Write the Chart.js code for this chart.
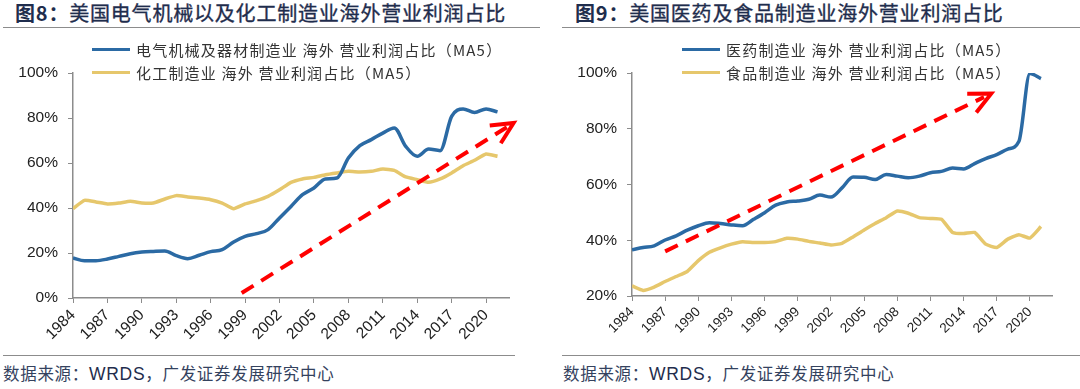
<!DOCTYPE html>
<html>
<head>
<meta charset="utf-8">
<script src="https://cdn.jsdelivr.net/npm/chart.js@4.4.1/dist/chart.umd.min.js"></script>
<style>
  body { margin: 0; background: #fff; }
  #page { position: relative; width: 1080px; height: 389px; overflow: hidden; font-family: "Liberation Sans", "Noto Sans CJK SC", sans-serif; }
  canvas { position: absolute; top: 0; }
  .title { position: absolute; top: -2px; font-family: "Noto Sans CJK SC", sans-serif; font-size: 20px; letter-spacing: 0.8px; color: #1f2d4d; white-space: nowrap; font-weight: 400; -webkit-text-stroke: 0.35px #1f2d4d; }
  .title b { font-weight: 700; -webkit-text-stroke: 0; }
  .rule { position: absolute; height: 0; border-top: 1.5px solid #8c8c8c; }
  .source { position: absolute; top: 361px; font-family: "Noto Sans CJK SC", sans-serif; font-size: 16.5px; letter-spacing: 0.7px; color: #34425e; white-space: nowrap; }
  .source span { font-family: "Liberation Sans", sans-serif; font-size: 17.5px; color: #1f2d4d; }
  .legend { position: absolute; font-family: "Noto Sans CJK SC", sans-serif; font-size: 15px; letter-spacing: 1.2px; color: #333; white-space: nowrap; }
  .legend div { height: 23px; line-height: 23px; display: flex; align-items: center; }
  .legend i { display: inline-block; width: 38px; height: 3.5px; margin-right: 6px; }
</style>
</head>
<body>
<div id="page">
  <div class="title" style="left:15px"><b>图8：</b>美国电气机械以及化工制造业海外营业利润占比</div>
  <div class="title" style="left:575px"><b>图9：</b>美国医药及食品制造业海外营业利润占比</div>
  <div class="rule" style="left:3px; width:537px; top:27px"></div>
  <div class="rule" style="left:562px; width:518px; top:27px"></div>

  <canvas id="left" width="540" height="355" style="left:0"></canvas>
  <canvas id="right" width="540" height="355" style="left:540px"></canvas>

  <div class="legend" id="legendLeft" style="left:92px; top:38px"></div>
  <div class="legend" id="legendRight" style="left:682px; top:38px"></div>

  <div class="rule" style="left:3px; width:512px; top:355px"></div>
  <div class="rule" style="left:562px; width:518px; top:355px"></div>
  <div class="source" style="left:3px">数据来源：<span>WRDS</span>，广发证券发展研究中心</div>
  <div class="source" style="left:563px">数据来源：<span>WRDS</span>，广发证券发展研究中心</div>
</div>

<script>
// years 1984 - 2021, MA5 share of overseas operating profit (%)
const years = [1984, 1985, 1986, 1987, 1988, 1989, 1990, 1991, 1992, 1993,
    1994, 1995, 1996, 1997, 1998, 1999, 2000, 2001, 2002, 2003,
    2004, 2005, 2006, 2007, 2008, 2009, 2010, 2011, 2012, 2013,
    2014, 2015, 2016, 2017, 2018, 2019, 2020, 2021];

// every third year gets a tick label
const tickYears = [1984, 1987, 1990, 1993, 1996, 1999, 2002, 2005, 2008, 2011, 2014, 2017, 2020];

const elecMach = [17.8, 16.6, 16.6, 17.3, 18.5, 19.7, 20.4, 20.7, 20.9, 18.8,
    17.5, 19.0, 20.6, 21.5, 24.9, 27.4, 28.6, 30.4, 35.6, 40.7,
    45.9, 48.9, 52.9, 53.3, 62.2, 67.7, 70.4, 73.3, 75.6, 67.4,
    63.0, 66.2, 65.5, 80.7, 84.0, 82.5, 84.0, 82.7];

const chemical = [39.7, 43.4, 42.7, 41.8, 42.2, 43.0, 42.2, 42.2, 44.0, 45.5,
    44.9, 44.4, 43.7, 42.2, 39.7, 41.8, 43.3, 45.2, 48.1, 51.4,
    52.9, 53.6, 54.8, 55.6, 56.3, 56.0, 56.3, 57.3, 56.7, 53.8,
    52.6, 51.4, 52.9, 55.6, 58.8, 61.2, 64.0, 63.0];

const pharma = [36.6, 37.4, 38.0, 40.1, 41.6, 43.6, 45.2, 46.3, 46.0, 45.5,
    45.2, 47.5, 49.9, 52.6, 53.7, 54.1, 54.7, 56.2, 55.5, 58.8,
    62.7, 62.6, 61.8, 63.6, 63.0, 62.4, 63.0, 64.2, 64.7, 65.9,
    65.6, 67.5, 69.3, 70.7, 72.7, 75.4, 99.8, 98.0];

const food = [23.6, 22.0, 23.2, 25.2, 27.0, 28.8, 32.7, 35.7, 37.3, 38.6,
    39.5, 39.2, 39.2, 39.5, 40.7, 40.4, 39.6, 39.0, 38.3, 38.9,
    41.2, 43.7, 46.0, 48.1, 50.5, 49.7, 48.1, 47.8, 47.5, 42.8,
    42.4, 42.8, 38.6, 37.4, 40.4, 42.0, 40.8, 44.9];

const leftLabels = ["电气机械及器材制造业 海外 营业利润占比（MA5）", "化工制造业 海外 营业利润占比（MA5）"];
const rightLabels = ["医药制造业 海外 营业利润占比（MA5）", "食品制造业 海外 营业利润占比（MA5）"];

const BLUE = "#2b6aa4";
const YELLOW = "#e6c76c";
const AXIS = "#8c8c8c";

// dashed red trend arrow, given in data coordinates
const trendArrow = {
    id: "trendArrow",
    afterDatasetsDraw(chart, args, opts) {
        const xs = chart.scales.x, ys = chart.scales.y;
        const x0 = xs.getPixelForValue(opts.from[0]);
        const y0 = ys.getPixelForValue(opts.from[1]);
        const x1 = xs.getPixelForValue(opts.to[0]);
        const y1 = ys.getPixelForValue(opts.to[1]);
        const ang = Math.atan2(y1 - y0, x1 - x0);
        const ctx = chart.ctx;
        ctx.save();
        ctx.strokeStyle = "#ff0000";
        ctx.lineWidth = 4;
        ctx.setLineDash([14, 9]);
        ctx.beginPath();
        ctx.moveTo(x0, y0);
        ctx.lineTo(x1 - 8 * Math.cos(ang), y1 - 8 * Math.sin(ang));
        ctx.stroke();
        ctx.setLineDash([]);
        ctx.lineJoin = "miter";
        ctx.beginPath();
        ctx.moveTo(x1 - 24 * Math.cos(ang - 0.45), y1 - 24 * Math.sin(ang - 0.45));
        ctx.lineTo(x1, y1);
        ctx.lineTo(x1 - 24 * Math.cos(ang + 0.45), y1 - 24 * Math.sin(ang + 0.45));
        ctx.stroke();
        ctx.restore();
    }
};

function points(values) {
    return years.map((yr, i) => ({ x: yr, y: values[i] }));
}

function makeChart(id, cfg) {
    return new Chart(document.getElementById(id), {
        type: "line",
        data: {
            datasets: [
                {
                    label: cfg.labels[0],
                    data: points(cfg.series[0]),
                    borderColor: BLUE,
                    borderWidth: 3.5,
                    pointRadius: 0,
                    cubicInterpolationMode: "monotone"
                },
                {
                    label: cfg.labels[1],
                    data: points(cfg.series[1]),
                    borderColor: YELLOW,
                    borderWidth: 3.5,
                    pointRadius: 0,
                    tension: 0.15
                }
            ]
        },
        options: {
            responsive: false,
            animation: false,
            layout: { padding: { top: 73, right: cfg.padRight, left: 0, bottom: 0 } },
            plugins: {
                legend: { display: false },
                tooltip: { enabled: false },
                trendArrow: { from: cfg.arrowFrom, to: cfg.arrowTo }
            },
            scales: {
                x: {
                    type: "linear",
                    min: 1984,
                    max: 2022,
                    afterBuildTicks: (s) => { s.ticks = tickYears.map(v => ({ value: v })); },
                    afterFit: (s) => { s.height = cfg.xHeight; },
                    grid: { drawOnChartArea: false, color: AXIS, tickLength: 5 },
                    border: { color: AXIS, width: 1.5 },
                    ticks: {
                        autoSkip: false,
                        minRotation: 45,
                        maxRotation: 45,
                        padding: 3,
                        color: "#222",
                        font: { family: "Liberation Sans", size: cfg.xFont },
                        callback: (v) => String(v)
                    }
                },
                y: {
                    min: cfg.yMin,
                    max: 100,
                    afterFit: (s) => { s.width = cfg.yWidth; },
                    grid: { drawOnChartArea: false, color: AXIS, tickLength: 5 },
                    border: { color: AXIS, width: 1.5 },
                    ticks: {
                        stepSize: 20,
                        padding: 10,
                        color: "#222",
                        font: { family: "Liberation Sans", size: 15.5 },
                        callback: (v) => v + "%"
                    }
                }
            }
        },
        plugins: [trendArrow]
    });
}

function buildLegend(chart, id) {
    const box = document.getElementById(id);
    box.innerHTML = chart.data.datasets.map(ds =>
        `<div><i style="background:${ds.borderColor}"></i>${ds.label}</div>`
    ).join("");
}

const leftChart = makeChart("left", {
    labels: leftLabels,
    series: [elecMach, chemical],
    yMin: 0,
    yWidth: 73,
    xHeight: 57,
    padRight: 31,
    xFont: 15.5,
    arrowFrom: [1998.7, 2.2],
    arrowTo: [2022.4, 77.8]
});

const rightChart = makeChart("right", {
    labels: rightLabels,
    series: [pharma, food],
    yMin: 20,
    yWidth: 92,
    xHeight: 59,
    padRight: 28,
    xFont: 13.5,
    arrowFrom: [1987.0, 36.0],
    arrowTo: [2016.5, 92.6]
});

buildLegend(leftChart, "legendLeft");
buildLegend(rightChart, "legendRight");
</script>
</body>
</html>
